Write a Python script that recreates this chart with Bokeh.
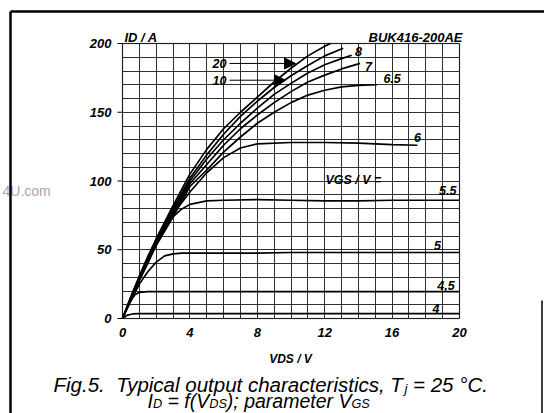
from bokeh.plotting import figure
from bokeh.models import (Range1d, FixedTicker, Label, Arrow, NormalHead, Grid,
                          BoxAnnotation)
from bokeh.core.properties import value
from bokeh.embed import file_html
from bokeh.resources import INLINE

# ---------------- data ----------------
x_ticks = [0, 4, 8, 12, 16, 20]
y_ticks = [0, 50, 100, 150, 200]
x_grid = list(range(0, 21))
y_grid = list(range(0, 201, 10))

V20 = [0, 0.5, 1, 1.5, 2, 3, 4, 5, 6, 7, 8, 9, 10, 11, 12, 12.35]
I20 = [0, 16, 31, 45, 58, 82, 105, 123, 138, 150, 161, 172, 182, 191, 198, 200]
V10 = [0, 0.5, 1, 1.5, 2, 3, 4, 5, 6, 7, 8, 9, 10, 11, 12, 13.1]
I10 = [0, 15.5, 30, 44, 57, 80, 102, 119, 134, 147, 158, 168, 176.5, 184, 191, 196.5]
V8 = [0, 0.5, 1, 1.5, 2, 3, 4, 5, 6, 7, 8, 9, 10, 11, 12, 13, 13.6]
I8 = [0, 15, 29.5, 43, 56, 78, 100, 116, 130, 142, 153, 163, 171, 178.5, 184.5, 189, 191.5]
V7 = [0, 0.5, 1, 1.5, 2, 3, 4, 5, 6, 7, 8, 9, 10, 11, 12, 13, 14.1]
I7 = [0, 15, 29, 42, 55, 76, 98, 112, 126, 138, 148, 157, 165, 172, 177, 181.5, 185.5]
V65 = [0, 0.5, 1, 1.5, 2, 3, 4, 5, 6, 7, 8, 9, 10, 11, 12, 13, 14, 15.1]
I65 = [0, 14.5, 28.5, 41, 53, 74, 96, 108, 121, 132, 142, 150, 157, 162.5, 166, 168.5, 169.5, 170]
V6 = [0, 0.5, 1, 1.5, 2, 3, 4, 5, 6, 7, 8, 10, 12, 14, 16, 17.5]
I6 = [0, 14, 27.5, 40, 54, 76, 92, 106, 117, 124, 127, 128, 128, 127.5, 126.5, 126]
V55 = [0, 0.5, 1, 1.5, 2, 2.5, 3, 3.5, 4, 5, 6, 8, 10, 12, 14, 16, 18, 20]
I55 = [0, 14.5, 28.5, 42, 57, 66, 74, 79.5, 83, 85.5, 86, 86.5, 86, 85.5, 85.5, 86, 86, 86]
V5 = [0, 0.5, 1, 1.5, 2, 2.5, 3, 3.5, 4, 6, 8, 10, 12, 14, 16, 18, 20]
I5 = [0, 13, 25, 34, 41, 45.5, 47, 47.5, 47.5, 47.5, 47.5, 48, 48, 48, 48, 48, 48]
V45 = [0, 0.25, 0.5, 0.75, 1, 1.5, 2, 4, 8, 12, 16, 20]
I45 = [0, 7, 13, 17.5, 19, 19.5, 19.5, 19.5, 19.5, 19.5, 19.5, 19.5]
V4 = [0, 0.3, 0.6, 1, 4, 8, 12, 16, 20]
I4 = [0, 2.5, 3.3, 3.5, 3.5, 3.5, 3.5, 3.5, 3.5]

curve_names = ["20", "10", "8", "7", "6.5", "6", "5.5", "5", "4,5", "4"]
curves_v = [V20, V10, V8, V7, V65, V6, V55, V5, V45, V4]
curves_i = [I20, I10, I8, I7, I65, I6, I55, I5, I45, I4]

# curve label anchor points (V, I)
label_v = [None, None, 14.0, 14.6, 16.0, 17.5, 19.3, 18.7, 19.2, 18.6]
label_i = [None, None, 194, 183, 174.5, 132, 93, 53, 24, 7.3]
# arrow targets for 20 and 10
arrow_v = [10.27, 9.67]
arrow_i = [185.5, 173.3]

# ---------------- layout ----------------
W, H = 544, 413
FL, FR, FT, FB = 122, 459, 43, 318       # plot area in pixels
X0, X1, Y0, Y1 = 0, 20, 0, 200
xs = (FR - FL) / (X1 - X0)
ys = (FB - FT) / (Y1 - Y0)


def dx(px):
    return X0 + (px - FL) / xs


def dy(py):
    return Y0 + (FB - py) / ys


p = figure(width=W, height=H, output_backend="svg", toolbar_location=None,
           x_range=Range1d(dx(0), dx(W)), y_range=Range1d(dy(H), dy(0)),
           x_axis_type=None, y_axis_type=None,
           min_border=0, min_border_left=0, min_border_right=0,
           min_border_top=0, min_border_bottom=0)
p.background_fill_color = "white"
p.border_fill_color = "white"
p.outline_line_color = None

gx = Grid(dimension=0, ticker=FixedTicker(ticks=x_grid), bounds=(X0, X1),
          cross_bounds=(Y0, Y1), grid_line_color="#1a1a1a", grid_line_alpha=0.9,
          grid_line_width=1)
gy = Grid(dimension=1, ticker=FixedTicker(ticks=y_grid), bounds=(Y0, Y1),
          cross_bounds=(X0, X1), grid_line_color="#1a1a1a", grid_line_alpha=0.9,
          grid_line_width=1)
p.add_layout(gx)
p.add_layout(gy)
p.add_layout(BoxAnnotation(left=X0, right=X1, bottom=Y0, top=Y1, fill_color=None,
                           line_color="black", line_width=1.5))

LF = "Liberation Sans"

# tick marks and tick labels (y)
p.segment(x0=[dx(FL - 5)] * len(y_ticks), y0=y_ticks, x1=[X0] * len(y_ticks),
          y1=y_ticks, line_color="black", line_width=1.2)
p.text(x=[dx(FL - 11)] * len(y_ticks), y=y_ticks, text=[str(t) for t in y_ticks],
       text_font=value(LF), text_font_style="bold italic", text_font_size="13px",
       text_align="right", text_baseline="middle", text_color="black")
# tick labels (x)
p.text(x=x_ticks, y=[dy(FB + 9)] * len(x_ticks), text=[str(t) for t in x_ticks],
       text_font=value(LF), text_font_style="bold italic", text_font_size="13px",
       text_align="center", text_baseline="top", text_color="black")

for v, i in zip(curves_v, curves_i):
    p.line(v, i, line_color="black", line_width=1.7)


def lab(x, y, text, size="12px", style="bold italic", align="center",
        baseline="middle", color="black"):
    p.add_layout(Label(x=x, y=y, text=text, text_font=LF, text_font_size=size,
                       text_font_style=style, text_align=align,
                       text_baseline=baseline, text_color=color))


def plab(px, py, text, **kw):
    lab(dx(px), dy(py), text, **kw)


for name, lv, li in zip(curve_names, label_v, label_i):
    if lv is not None:
        lab(lv, li, name, size="12.5px")

# arrows with labels 20 and 10
for name, av, ai in zip(curve_names[:2], arrow_v, arrow_i):
    lab(dx(226), ai, name, size="12.5px", align="right")
    p.add_layout(Arrow(end=NormalHead(size=11, fill_color="black", line_color="black"),
                       x_start=dx(229), y_start=ai, x_end=av, y_end=ai,
                       line_color="black", line_width=1))

lab(13.7, 100.5, "VGS / V =", size="12.5px")
plab(124, 37, "ID / A", size="13px", align="left", baseline="alphabetic")
plab(462, 37, "BUK416-200AE", size="13px", align="right", baseline="alphabetic")
plab(290, 358, "VDS / V", size="12px", baseline="alphabetic")
plab(2, 190, "4U.com", size="14px", style="normal", align="left",
     baseline="alphabetic", color="#a8a8a8")

# caption with subscripts
AW = {' ': 278, 'F': 611, 'i': 222, 'g': 556, '.': 278, 'T': 611, 'y': 500,
      'p': 556, 'c': 500, 'a': 556, 'l': 222, 'o': 556, 'u': 556, 't': 278,
      'h': 556, 'r': 333, 's': 500, 'e': 556, ',': 278, '=': 584, '°': 400,
      'C': 722, 'I': 278, 'f': 278, '(': 333, ')': 333, 'V': 667, 'D': 722,
      'S': 667, 'G': 778, ';': 278, 'm': 833, 'j': 222}


def tw(s, size):
    return sum(AW.get(ch, 556) for ch in s) * size / 1000.0


def caption(pieces, xstart, base, size=20):
    x = xstart
    for txt, sub, gap in pieces:
        fs = size * 0.65 if sub else size
        yb = base + (3.5 if sub else 0)
        if txt:
            plab(x, yb, txt, size=f"{fs:.1f}px", style="italic", align="left",
                 baseline="alphabetic")
        x += tw(txt, fs) + gap * size / 1000.0


caption([("Fig.5.", False, 556), ("Typical output characteristics, T", False, 0),
         ("j", True, 278), ("= 25 °C.", False, 0)], 53, 384, size=20.5)
caption([("I", False, 0), ("D", True, 278), ("= f(V", False, 0), ("DS", True, 0),
         ("); parameter V", False, 0), ("GS", True, 0)], 147, 400, size=19.5)

# outer frame of the figure
for (xa, ya, xb, yb, w) in [(10, 11, 544, 11, 2.5), (10, 11, 10, 413, 2.5),
                            (541.5, 300, 541.5, 413, 1.5)]:
    p.add_layout(Arrow(end=None, x_start=dx(xa), y_start=dy(ya), x_end=dx(xb),
                       y_end=dy(yb), line_color="black", line_width=w))

open("out.html", "w").write(file_html(p, INLINE))
